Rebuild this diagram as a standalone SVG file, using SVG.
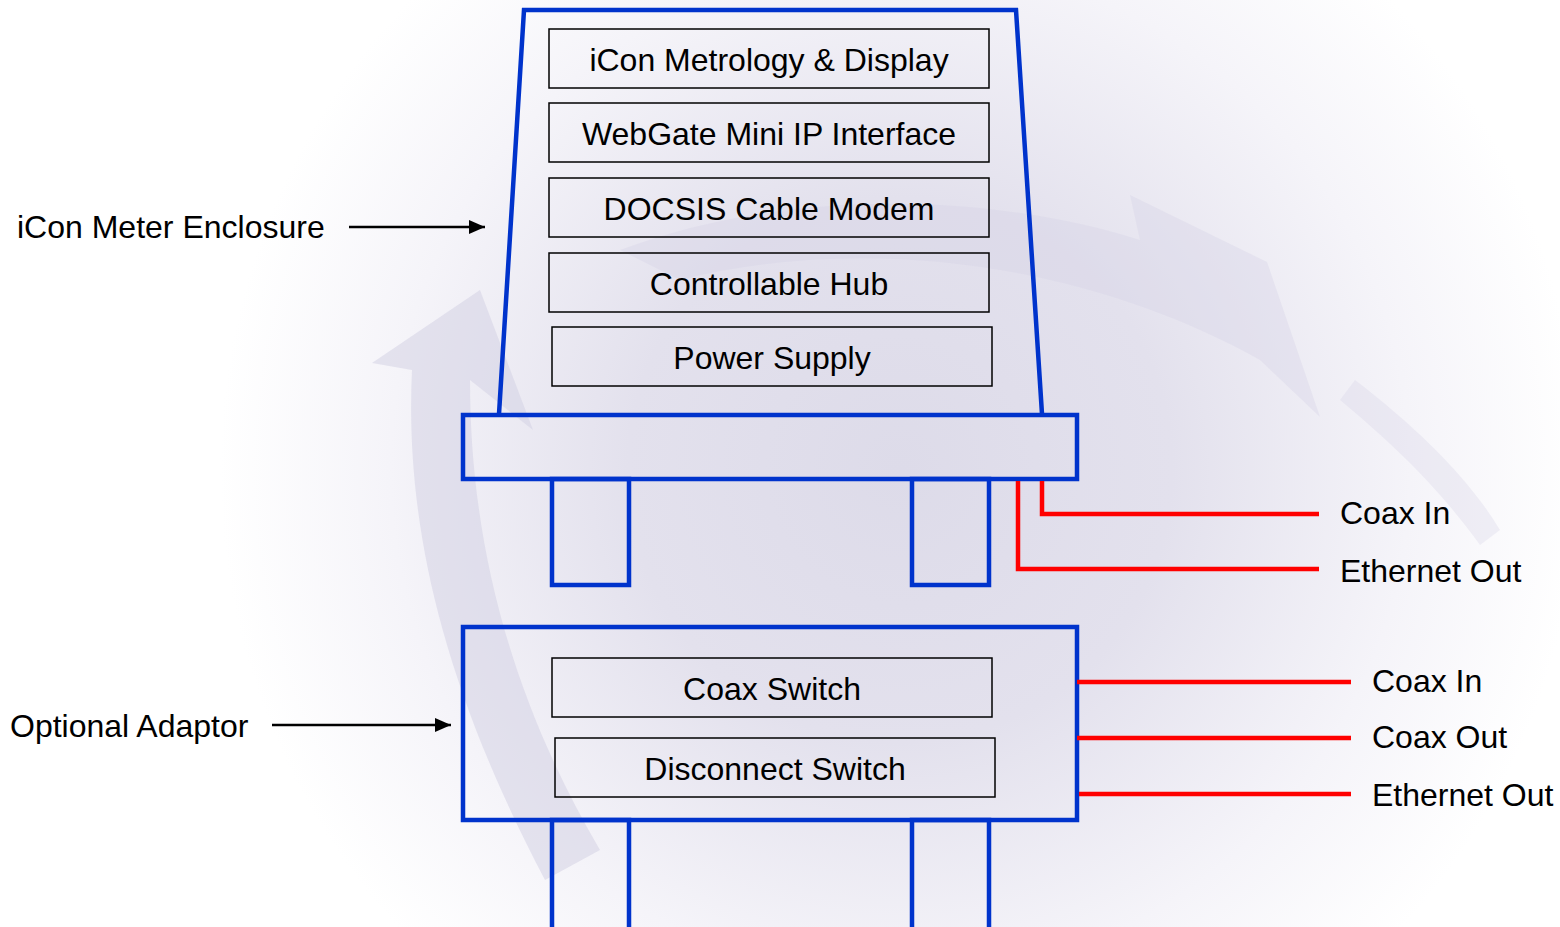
<svg xmlns="http://www.w3.org/2000/svg" width="1560" height="927" viewBox="0 0 1560 927">
<defs>
<radialGradient id="bg" cx="900" cy="470" r="680" gradientUnits="userSpaceOnUse">
<stop offset="0" stop-color="#DDDBE9"/>
<stop offset="0.4" stop-color="#E3E1ED"/>
<stop offset="0.75" stop-color="#F5F4F9"/>
<stop offset="1" stop-color="#FFFFFF"/>
</radialGradient>
<marker id="ah" markerWidth="16" markerHeight="14" refX="16" refY="7" orient="auto" markerUnits="userSpaceOnUse" viewBox="0 0 16 14">
<path d="M0,0 L16,7 L0,14 z" fill="#000"/>
</marker>
<style>
.blue{fill:none;stroke:#0033CC;stroke-width:4.5}
.box{fill:none;stroke:#000;stroke-width:1.5}
.red{fill:none;stroke:#FF0000;stroke-width:4.5}
.lbl{font-family:"Liberation Sans",Arial,sans-serif;font-size:32px;fill:#000}
.mid{text-anchor:middle}
.swirl{fill:#D4D2E4}
.arr{stroke:#000;stroke-width:2.5;marker-end:url(#ah)}
</style>
</defs>
<rect width="1560" height="927" fill="#FFFFFF"/>
<rect width="1560" height="927" fill="url(#bg)"/>
<g id="watermark">
<path class="swirl" opacity="0.55" d="M480,290 L372,363 L412,370 C405,520 440,680 545,880 L600,850 C500,680 470,520 470,380 L533,430 Z"/>
<path class="swirl" opacity="0.35" d="M620,250 C780,190 980,190 1140,240 L1130,195 L1267,262 L1320,417 L1260,360 C1100,270 880,230 680,280 Z"/>
<path class="swirl" opacity="0.3" d="M1355,380 C1420,430 1470,480 1500,530 L1480,545 C1440,490 1400,450 1340,400 Z"/>
</g>
<g id="enclosure">
<path class="blue" d="M499,414 L524,10 L1016,10 L1042,414"/>
</g>
<g id="metrology"><rect class="box" x="549" y="29" width="440" height="59" fill="#FFFFFF" fill-opacity="0.5"/><text class="lbl mid" x="769" y="71">iCon Metrology &amp; Display</text></g>
<g id="webgate"><rect class="box" x="549" y="103" width="440" height="59" fill="#FFFFFF" fill-opacity="0.5"/><text class="lbl mid" x="769" y="145">WebGate Mini IP Interface</text></g>
<g id="docsis"><rect class="box" x="549" y="178" width="440" height="59" fill="#FFFFFF" fill-opacity="0.5"/><text class="lbl mid" x="769" y="220">DOCSIS Cable Modem</text></g>
<g id="hub"><rect class="box" x="549" y="253" width="440" height="59" fill="#FFFFFF" fill-opacity="0.5"/><text class="lbl mid" x="769" y="295">Controllable Hub</text></g>
<g id="power"><rect class="box" x="552" y="327" width="440" height="59" fill="#FFFFFF" fill-opacity="0.5"/><text class="lbl mid" x="772" y="369">Power Supply</text></g>
<g id="enclosure-base">
<rect class="blue" x="463" y="415" width="614" height="64"/>
<rect class="blue" x="552" y="479" width="77" height="106"/>
<rect class="blue" x="912" y="479" width="77" height="106"/>
</g>
<g id="adaptor">
<rect class="blue" x="463" y="627" width="614" height="193"/>
<rect class="blue" x="552" y="820" width="77" height="112"/>
<rect class="blue" x="912" y="820" width="77" height="112"/>
</g>
<g id="coax-switch"><rect class="box" x="552" y="658" width="440" height="59" fill="#FFFFFF" fill-opacity="0.5"/><text class="lbl mid" x="772" y="700">Coax Switch</text></g>
<g id="disconnect-switch"><rect class="box" x="555" y="738" width="440" height="59" fill="#FFFFFF" fill-opacity="0.5"/><text class="lbl mid" x="775" y="780">Disconnect Switch</text></g>
<g id="labels">
<text class="lbl" x="17" y="238">iCon Meter Enclosure</text>
<text class="lbl" x="10" y="737">Optional Adaptor</text>
<text class="lbl" x="1340" y="524">Coax In</text>
<text class="lbl" x="1340" y="582">Ethernet Out</text>
<text class="lbl" x="1372" y="692">Coax In</text>
<text class="lbl" x="1372" y="748">Coax Out</text>
<text class="lbl" x="1372" y="806">Ethernet Out</text>
</g>
<g id="connectors">
<line class="arr" x1="349" y1="227" x2="485" y2="227"/>
<line class="arr" x1="272" y1="725" x2="451" y2="725"/>
<path class="red" d="M1042,481 L1042,514 L1319,514"/>
<path class="red" d="M1018,481 L1018,569 L1319,569"/>
<line class="red" x1="1077" y1="682" x2="1351" y2="682"/>
<line class="red" x1="1077" y1="738" x2="1351" y2="738"/>
<line class="red" x1="1079" y1="794" x2="1351" y2="794"/>
</g>
</svg>
